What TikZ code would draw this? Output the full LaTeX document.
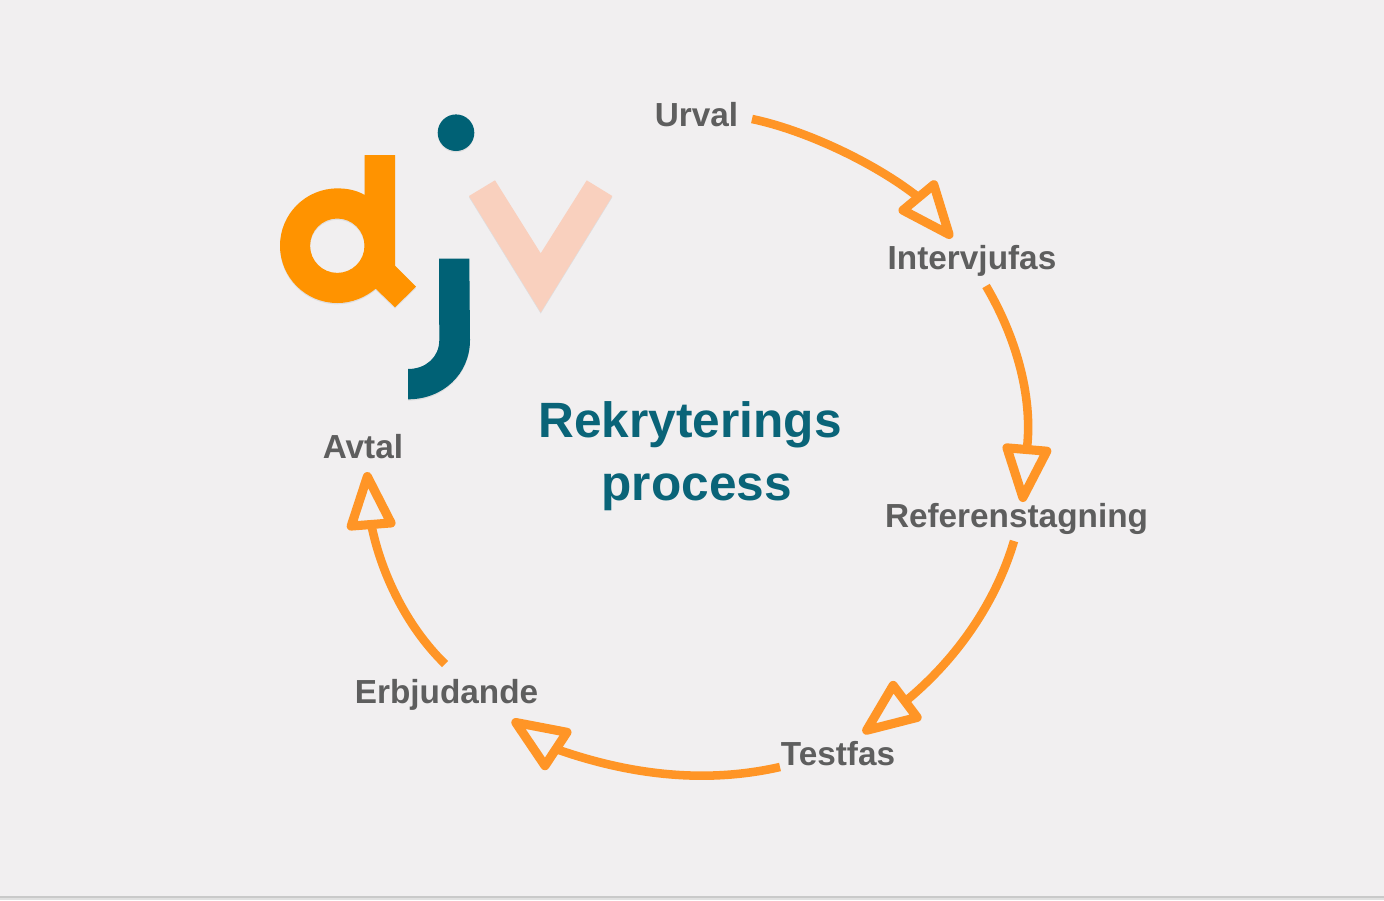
\documentclass[tikz,border=0pt]{standalone}
\usepackage{fontspec}
\setmainfont{Liberation Sans}
\usetikzlibrary{arrows.meta}
\definecolor{bgc}{HTML}{F1EFF0}
\definecolor{orangeA}{HTML}{FF9300}
\definecolor{orangeB}{HTML}{FF9526}
\definecolor{tealc}{HTML}{006175}
\definecolor{tealt}{HTML}{0A6478}
\definecolor{peach}{HTML}{F9D0BE}
\definecolor{greyt}{HTML}{5E5E5E}
\pgfdeclarearrow{
 name=HollowHead,
 setup code={\pgfarrowssettipend{0pt}\pgfarrowssetbackend{-40pt}\pgfarrowssetlineend{-38pt}\pgfarrowssetvisualbackend{-39pt}},
 drawing code={\pgfsetlinewidth{6.8pt}\pgfsetroundjoin\pgfsetbuttcap\pgfsetdash{}{0pt}%
  \pgfpathmoveto{\pgfpoint{-3.4pt}{0pt}}\pgfpathlineto{\pgfpoint{-39.5pt}{15pt}}\pgfpathlineto{\pgfpoint{-39.5pt}{-15pt}}\pgfpathclose\pgfusepathqstroke}
}
\tikzset{
 x=0.75pt,y=-0.75pt,
 stage/.style={font=\fontsize{25pt}{30pt}\bfseries,text=greyt,inner sep=0pt,anchor=center},
 title/.style={font=\fontsize{37.2pt}{47pt}\bfseries,text=tealt,inner sep=0pt,align=center},
 flow/.style={draw=orangeB,line width=6.4pt,line join=round,-{HollowHead}},
 logo/.style={preaction={even odd rule,fill=black,fill opacity=.07,transform canvas={yshift=-1pt}}}
}
\begin{document}
\begin{tikzpicture}
\useasboundingbox (0,0) rectangle (1384,900);
\fill[bgc] (0,0) rectangle (1384,900);
\fill[black!21] (0,896) rectangle (1384,898);
\fill[black!12] (0,898) rectangle (1384,900);
% logo
\path[logo,fill=orangeA,even odd rule]
  (364.7,155) -- (395,155) -- (395,265.7) -- (416,286.7) -- (395,307.3) -- (375.7,288.7)
  .. controls (365,297.5) and (352,303) .. (337.3,303)
  arc[start angle=90,end angle=270,radius=57.3]
  .. controls (347,188.4) and (356,190) .. (364.7,195) -- cycle
  (364.5,245.7) arc[start angle=0,end angle=360,radius=27.2];
\path[logo,fill=tealc] (439,258.7) -- (469.3,258.7) -- (470,340)
  .. controls (470,374) and (443,399.3) .. (408,399.3) -- (408,369)
  .. controls (426,369) and (439.3,357) .. (439.3,340) -- cycle;
\path[logo,fill=tealc] (456,132.7) circle[radius=18.3];
\path[logo,fill=peach] (469,196) -- (495,180.3) -- (540.7,253.3) -- (586.7,180.3) -- (612.3,196) -- (540.7,312.3) -- cycle;
% labels
\node[stage] (urval) at (696.5,115) {Urval};
\node[stage] (intervjufas) at (972,261) {Intervjufas};
\node[stage] (referens) at (1016.5,519) {Referenstagning};
\node[stage] (testfas) at (838,754) {Testfas};
\node[stage] (erbjudande) at (446.5,695) {Erbjudande};
\node[stage] (avtal) at (363,447) {Avtal};
\node[title] (rubrik) at (690,456) {Rekryterings\\\hspace*{10pt}process};
% connectors
\draw[flow] ([shift={(55.5,4)}]urval.center) .. controls (805,130) and (875,163) .. (918,197) -- ([shift={(-20,-23)}]intervjufas.center);
\draw[flow] ([shift={(14,25)}]intervjufas.center) .. controls (1015,335) and (1033,395) .. (1027,448) -- ([shift={(6,-17)}]referens.center);
\draw[flow] ([shift={(-2.5,22)}]referens.center) .. controls (995,605) and (955,660) .. (907,700) -- ([shift={(25,-21)}]testfas.center);
\draw[flow] ([shift={(-58,13)}]testfas.center) .. controls (705,784) and (630,775) .. (556,749) -- ([shift={(65.5,25)}]erbjudande.center);
\draw[flow] ([shift={(-1.5,-31)}]erbjudande.center) .. controls (405,625) and (380,570) .. (371,523) -- ([shift={(4,25)}]avtal.center);
\end{tikzpicture}
\end{document}
